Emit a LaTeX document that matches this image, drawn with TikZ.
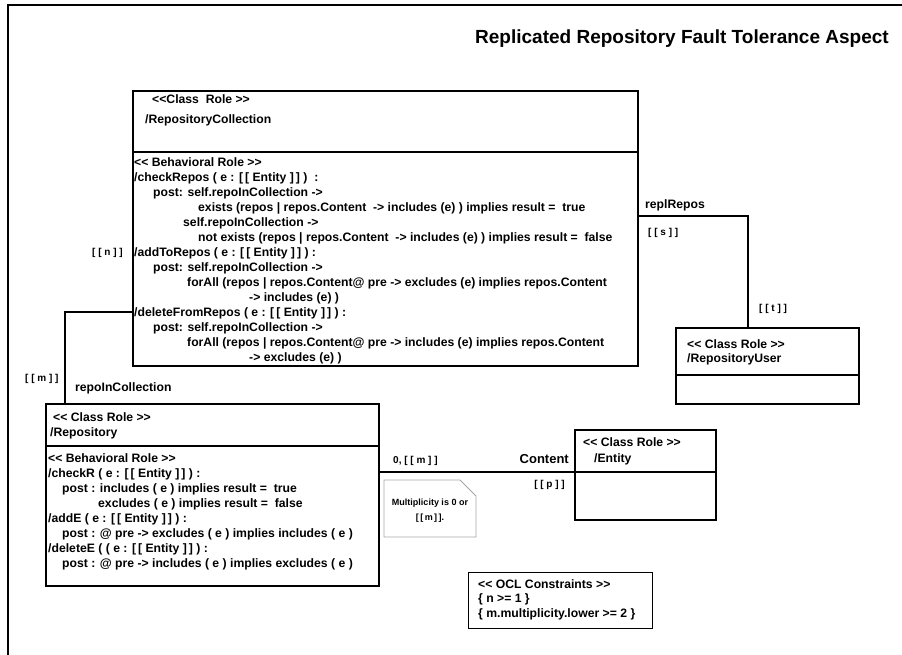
\documentclass[tikz,border=0pt]{standalone}
\usepackage{fontspec}
\setmainfont{Liberation Sans}[Ligatures=TeXOff]
\begin{document}
\begin{tikzpicture}[x=1pt,y=-1pt,
  box/.style={draw, line width=1.6pt, inner sep=0pt, anchor=north west},
  divider/.style={line width=1.6pt},
  conn/.style={line width=1.6pt},
  txt/.style={inner sep=0pt, anchor=base west, align=left, font=\fontsize{12.2}{15}\selectfont\bfseries},
  lbl/.style={inner sep=0pt, anchor=base west, font=\fontsize{10}{12}\selectfont\bfseries},
  notetxt/.style={inner sep=0pt, anchor=base, align=center, font=\fontsize{9}{15}\selectfont\bfseries}]

\useasboundingbox (0,0) rectangle (902,655);
\clip (0,0) rectangle (902,655);
\draw[line width=1.8pt] (8,5) rectangle (920,680);

% title
\node[inner sep=0pt, anchor=base west, font=\fontsize{19}{22}\selectfont\bfseries] (title) at (475,44) {Replicated Repository Fault Tolerance Aspect};

% boxes
\node[box, minimum width=505pt, minimum height=275pt] (rc) at (132,90) {};
\draw[divider] (rc.west |- 0,152) -- (rc.east |- 0,152);
\node[box, minimum width=183pt, minimum height=76pt] (ru) at (675,327) {};
\draw[divider] (ru.west |- 0,375) -- (ru.east |- 0,375);
\node[box, minimum width=333pt, minimum height=182pt] (repo) at (45,403) {};
\draw[divider] (repo.west |- 0,446) -- (repo.east |- 0,446);
\node[box, minimum width=141pt, minimum height=90pt] (ent) at (574,429) {};
\draw[divider] (ent.west |- 0,472) -- (ent.east |- 0,472);
\node[box, line width=1.2pt, minimum width=184pt, minimum height=56pt] (ocl) at (468,572) {};

% connectors
\coordinate (c1) at (748,216);
\draw[conn] (c1 -| rc.east) -- (c1) -- (c1 |- ru.north);
\coordinate (c2) at (65,312);
\draw[conn] (c2 -| rc.west) -- (c2) -- (c2 |- repo.north);
\coordinate (c3) at (0,472);
\draw[conn] (c3 -| repo.east) -- (c3 -| ent.west);

% note
\draw[gray!70, line width=0.8pt] (384,480) -- (460,480) -- (476,496) -- (476,537) -- (384,537) -- cycle;
\node[notetxt] (note) at (430,520) {Multiplicity is 0 or\\{}[\,[\,m\,]\,].};

% texts of RepositoryCollection
\node[txt] (rch1) at (152,104) {<<Class~ Role >>};
\node[txt] (rch2) at (145,124) {/RepositoryCollection};
\node[txt] (rcb) at (134,361) {<< Behavioral Role >>\\
/checkRepos ( e : [\,[ Entity ]\,] )~ :\\
\hspace*{19pt}post: self.repoInCollection ->\\
\hspace*{64pt}exists (repos | repos.Content~ -> includes (e) ) implies result =~ true\\
\hspace*{49pt}self.repoInCollection ->\\
\hspace*{64pt}not exists (repos | repos.Content~ -> includes (e) ) implies result =~ false\\
/addToRepos ( e : [\,[ Entity ]\,] ) :\\
\hspace*{19pt}post: self.repoInCollection ->\\
\hspace*{53pt}forAll (repos | repos.Content@ pre -> excludes (e) implies repos.Content\\
\hspace*{115pt}-> includes (e) )\\
/deleteFromRepos ( e : [\,[ Entity ]\,] ) :\\
\hspace*{19pt}post: self.repoInCollection ->\\
\hspace*{53pt}forAll (repos | repos.Content@ pre -> includes (e) implies repos.Content\\
\hspace*{115pt}-> excludes (e) )};

% RepositoryUser
\node[txt, font=\fontsize{12.2}{14}\selectfont\bfseries] (ruh) at (687,362) {<< Class Role >>\\/RepositoryUser};

% Repository
\node[txt] (reph1) at (53,421) {<< Class Role >>};
\node[txt] (reph2) at (50,436) {/Repository};
\node[txt] (repb) at (48,567) {<< Behavioral Role >>\\
/checkR ( e : [\,[ Entity ]\,] ) :\\
\hspace*{14pt}post : includes ( e ) implies result =~ true\\
\hspace*{50pt}excludes ( e ) implies result =~ false\\
/addE ( e : [\,[ Entity ]\,] ) :\\
\hspace*{14pt}post : @ pre -> excludes ( e ) implies includes ( e )\\
/deleteE ( ( e : [\,[ Entity ]\,] ) :\\
\hspace*{14pt}post : @ pre -> includes ( e ) implies excludes ( e )};

% Entity
\node[txt] (enth1) at (583,446) {<< Class Role >>};
\node[txt] (enth2) at (594,462) {/Entity};

% OCL
\node[txt, font=\fontsize{12.2}{14.5}\selectfont\bfseries] (oclt) at (478,617) {<< OCL Constraints >>\\
\{ n >= 1 \}\\
\{ m.multiplicity.lower >= 2 \}};

% labels
\node[txt] (lrepl) at (645,209) {replRepos};
\node[lbl] (ls) at (648,236) {[ [ s ] ]};
\node[lbl] (lt) at (759,311) {[ [ t ] ]};
\node[lbl] (ln) at (92,255) {[ [ n ] ]};
\node[lbl] (lm) at (25,381) {[ [ m ] ]};
\node[txt] (lric) at (75,391) {repoInCollection};
\node[lbl] (lzm) at (393,463) {0, [ [ m ] ]};
\node[txt, anchor=base east, font=\fontsize{13}{15}\selectfont\bfseries] (lcont) at (569,463) {Content};
\node[lbl, anchor=base east] (lp) at (565,487) {[ [ p ] ]};

\end{tikzpicture}
\end{document}
